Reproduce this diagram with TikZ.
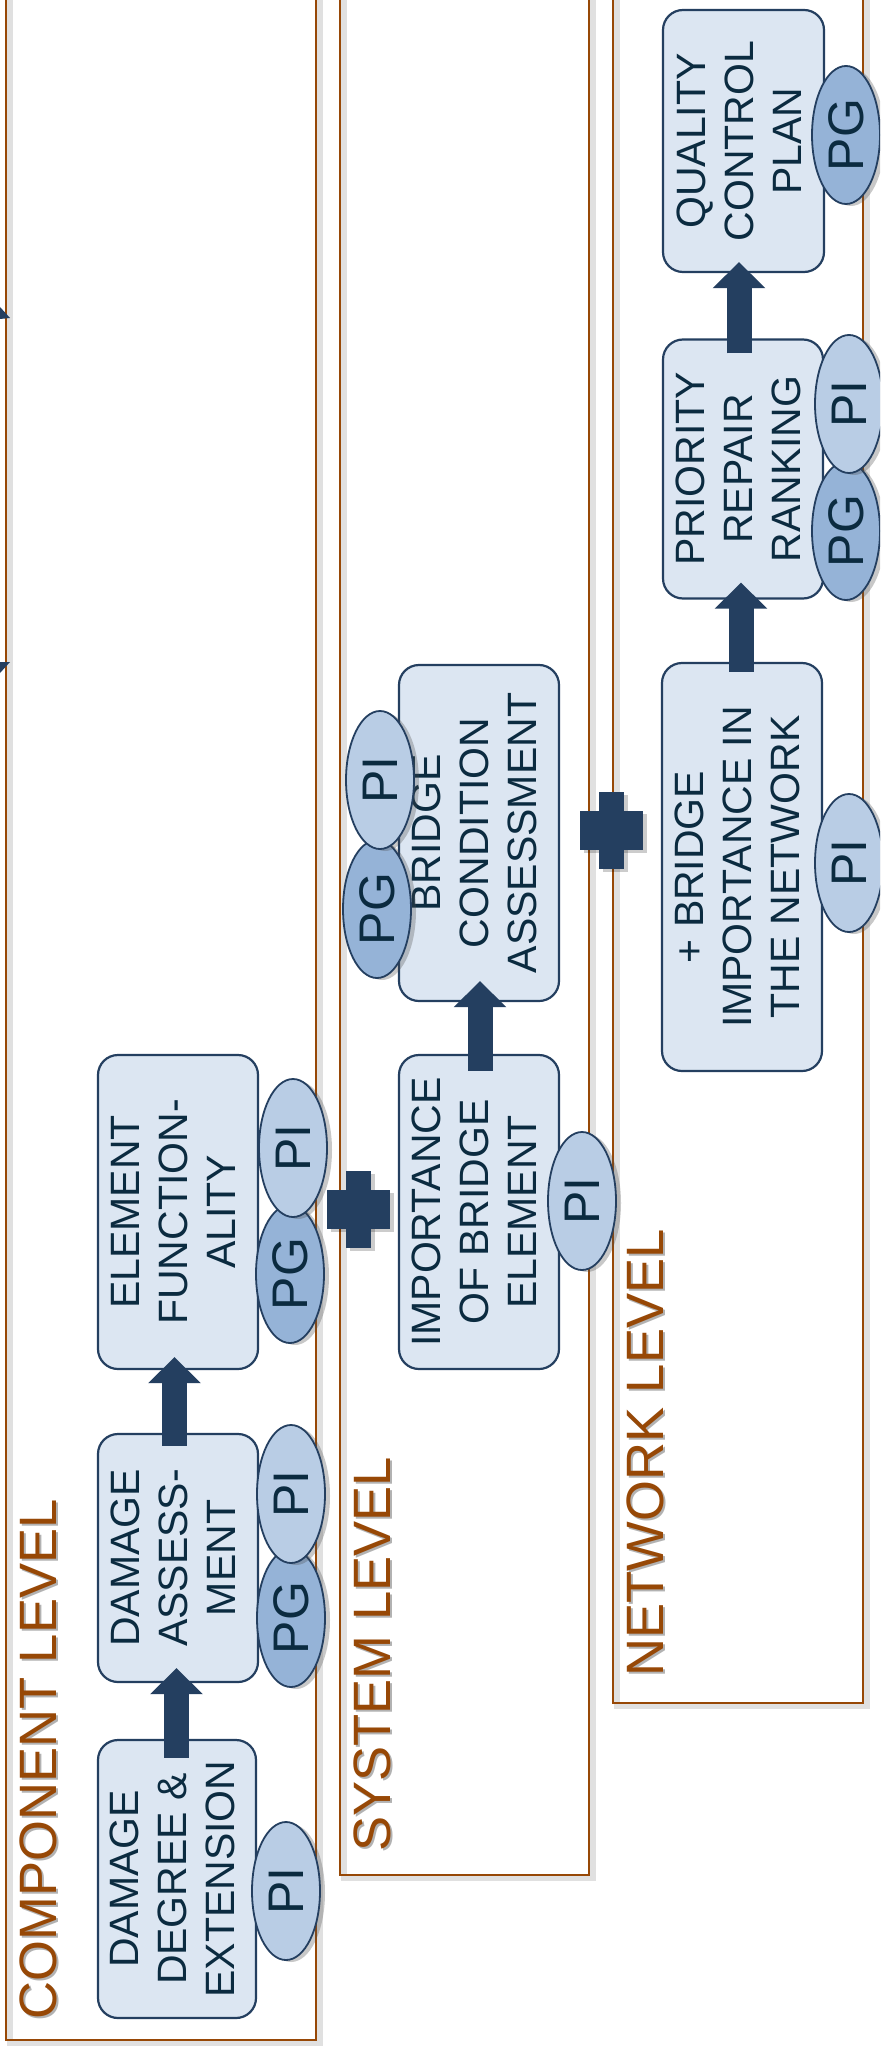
\documentclass[tikz,border=0pt]{standalone}
\usepackage{fontspec}
\setmainfont{Liberation Sans}
\usetikzlibrary{shapes.geometric,arrows.meta,calc,shadows}
\definecolor{framec}{HTML}{974806}
\definecolor{navy}{HTML}{243F60}
\definecolor{boxfill}{HTML}{DCE6F2}
\definecolor{txtc}{HTML}{0B2B40}
\definecolor{pifill}{HTML}{B9CDE5}
\definecolor{pgfill}{HTML}{95B3D7}
\newcommand{\rtext}[1]{\rotatebox{90}{\begin{tabular}{@{}c@{}}#1\end{tabular}}}
\tikzset{
  stepbox/.style={draw=navy, line width=1.1pt, fill=boxfill, rounded corners=10pt,
    inner sep=0pt, text=txtc, font=\fontsize{20.5}{24}\selectfont},
  ell/.style={ellipse, draw=navy, line width=0.9pt, inner sep=0pt,
    minimum width=34pt, minimum height=69pt, text=txtc,
    font=\fontsize{25}{30}\selectfont,
    drop shadow={shadow xshift=2.5pt, shadow yshift=-1pt, opacity=0.3, fill=black!70}},
  pinode/.style={ell, fill=pifill},
  pgnode/.style={ell, fill=pgfill},
  flow/.style={draw=navy, line width=12.5pt, -{Triangle[width=25.5pt,length=13pt]}},
  framebox/.style={draw=framec, line width=1pt},
  frameshadow/.style={draw=black!12, line width=3pt},
  lvl/.style={rotate=90, anchor=base west, inner sep=0pt, text=framec,
    font=\fontsize{26.3}{30}\selectfont},
  lvlshadow/.style={lvl, text=black!30},
  plusshadow/.style={fill=black, opacity=0.2}
}
\begin{document}
\begin{tikzpicture}[x=0.5pt,y=-0.5pt]
\useasboundingbox (0,0) rectangle (880,2048);
\clip (0,0) rectangle (880,2048);
\fill[white] (0,0) rectangle (880,2048);

% frames
\draw[frameshadow, transform canvas={xshift=1.8pt,yshift=-1.5pt}] (6,-10) -- (6,2040) -- (316,2040) -- (316,-10);
\draw[frameshadow, transform canvas={xshift=1.8pt,yshift=-1.5pt}] (340,-10) -- (340,1875) -- (589,1875) -- (589,-10);
\draw[frameshadow, transform canvas={xshift=1.8pt,yshift=-1.5pt}] (613,-10) -- (613,1703) -- (863,1703) -- (863,-10);
\draw[framebox] (6,-10) -- (6,2040) -- (316,2040) -- (316,-10);
\draw[framebox] (340,-10) -- (340,1875) -- (589,1875) -- (589,-10);
\draw[framebox] (613,-10) -- (613,1703) -- (863,1703) -- (863,-10);

% cut-off arrow tips at the left edge
\fill[navy] (0,307) -- (10,318) -- (0,319) -- cycle;
\fill[navy] (0,662) -- (10,662) -- (0,673) -- cycle;

% level labels
\node[lvlshadow] (lcs) at (58,2022) {COMPONENT LEVEL};
\node[lvl] (lc) at (56,2020) {COMPONENT LEVEL};
\node[lvlshadow] (lss) at (392,1854) {SYSTEM LEVEL};
\node[lvl] (ls) at (390,1852) {SYSTEM LEVEL};
\node[lvlshadow] (lns) at (665,1679) {NETWORK LEVEL};
\node[lvl] (ln) at (663,1677) {NETWORK LEVEL};

% boxes
\node[stepbox, minimum width=79pt, minimum height=139pt] (DDE) at (177,1879) {\rtext{DAMAGE\\DEGREE \&\\EXTENSION}};
\node[stepbox, minimum width=80pt, minimum height=124pt] (DA) at (178,1558) {\rtext{DAMAGE\\ASSESS-\\MENT}};
\node[stepbox, minimum width=80pt, minimum height=157pt] (EF) at (178,1212) {\rtext{ELEMENT\\FUNCTION-\\ALITY}};
\node[stepbox, minimum width=80pt, minimum height=157pt] (IBE) at (479,1212) {\rtext{IMPORTANCE\\OF BRIDGE\\ELEMENT}};
\node[stepbox, minimum width=80pt, minimum height=168pt] (BCA) at (479,833) {\rtext{BRIDGE\\CONDITION\\ASSESSMENT}};
\node[stepbox, minimum width=80pt, minimum height=204pt] (BIN) at (742,867) {\rtext{+ BRIDGE\\IMPORTANCE IN\\THE NETWORK}};
\node[stepbox, minimum width=80pt, minimum height=129.5pt] (PRR) at (743,469) {\rtext{PRIORITY\\REPAIR\\RANKING}};
\node[stepbox, minimum width=80.5pt, minimum height=131pt] (QCP) at (743.5,141) {\rtext{QUALITY\\CONTROL\\PLAN}};

% flow arrows
\draw[flow] ($(DDE.north)+(-0.25pt,-9.5pt)$) -- ($(DDE.north |- DA.south)+(-0.25pt,7.5pt)$);
\draw[flow] ($(DA.north)+(-1.75pt,-6.5pt)$) -- ($(DA.north |- EF.south)+(-1.75pt,6.5pt)$);
\draw[flow] ($(IBE.north)+(0.5pt,-8.5pt)$) -- ($(IBE.north |- BCA.south)+(0.5pt,10.5pt)$);
\draw[flow] ($(BIN.north)+(-0.5pt,-5pt)$) -- ($(BIN.north |- PRR.south)+(-0.5pt,8.5pt)$);
\draw[flow] ($(PRR.north)+(-2pt,-7.5pt)$) -- ($(PRR.north |- QCP.south)+(-2pt,5.5pt)$);

% plus signs
\coordinate (plusA) at (358,1209);
\coordinate (plusB) at (611,830);
\foreach \p in {plusA,plusB}{
  \fill[plusshadow] ($(\p)+(-15.75pt+2pt,-9.75pt-1.5pt)$) rectangle ($(\p)+(15.75pt+2pt,9.75pt-1.5pt)$);
  \fill[plusshadow] ($(\p)+(-6.25pt+2pt,-19.25pt-1.5pt)$) rectangle ($(\p)+(6.25pt+2pt,19.25pt-1.5pt)$);
  \fill[navy] ($(\p)+(-15.75pt,-9.75pt)$) rectangle ($(\p)+(15.75pt,9.75pt)$);
  \fill[navy] ($(\p)+(-6.25pt,-19.25pt)$) rectangle ($(\p)+(6.25pt,19.25pt)$);
}

% PI / PG badges
\node[pinode] (piDDE) at (286,1891) {\rotatebox{90}{PI}};
\node[pgnode] (pgDA) at (291,1618) {\rotatebox{90}{PG}};
\node[pinode] (piDA) at (291,1494) {\rotatebox{90}{PI}};
\node[pgnode] (pgEF) at (290,1274) {\rotatebox{90}{PG}};
\node[pinode] (piEF) at (293,1148) {\rotatebox{90}{PI}};
\node[pinode] (piIBE) at (582,1201) {\rotatebox{90}{PI}};
\node[pgnode] (pgBCA) at (377,909) {\rotatebox{90}{PG}};
\node[pinode] (piBCA) at (380,780) {\rotatebox{90}{PI}};
\node[pinode] (piBIN) at (849,863) {\rotatebox{90}{PI}};
\node[pgnode] (pgPRR) at (846,531) {\rotatebox{90}{PG}};
\node[pinode] (piPRR) at (849,404) {\rotatebox{90}{PI}};
\node[pgnode] (pgQCP) at (846,135) {\rotatebox{90}{PG}};
\end{tikzpicture}
\end{document}
